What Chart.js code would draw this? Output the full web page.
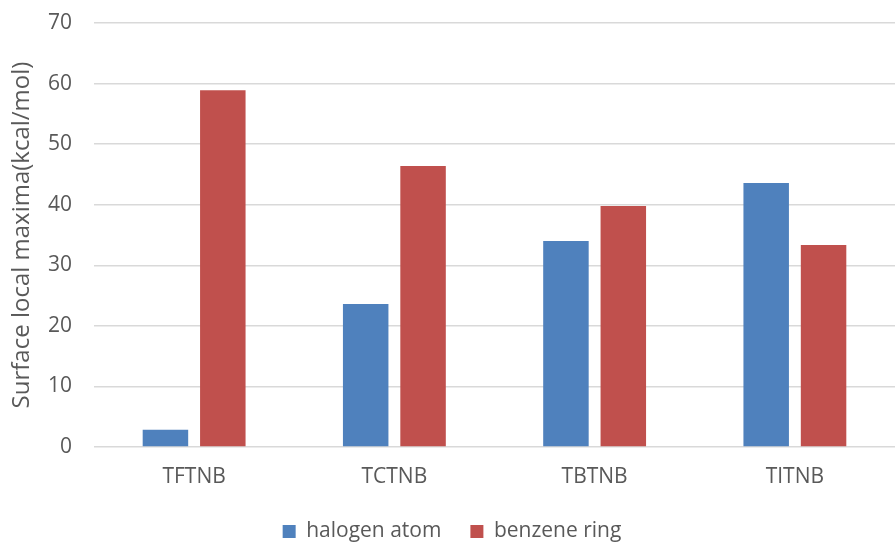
<!DOCTYPE html>
<html>
<head>
<meta charset="utf-8">
<script src="https://cdn.jsdelivr.net/npm/chart.js@4/dist/chart.umd.min.js"></script>
<style>
  html, body { margin: 0; padding: 0; background: #fff; }
  #wrap { width: 895px; height: 544px; }
</style>
</head>
<body>
<div id="wrap"><canvas id="barchart" width="895" height="544"></canvas></div>
<script>
// categories and series
var categories = ["TFTNB", "TCTNB", "TBTNB", "TITNB"];
var halogenAtom = [2.85, 23.6, 34.0, 43.6];
var benzeneRing = [58.9, 46.4, 39.8, 33.35];
var yTicks = [0, 10, 20, 30, 40, 50, 60, 70];

var textColor = "#595959";
var gridColor = "#d9d9d9";

var chartdata = {
  labels: categories,
  datasets: [
    {
      label: "halogen atom",
      backgroundColor: "#4f81bd",
      borderColor: "#4f81bd",
      borderWidth: 0,
      data: halogenAtom
    },
    {
      label: "benzene ring",
      backgroundColor: "#c0504d",
      borderColor: "#c0504d",
      borderWidth: 0,
      data: benzeneRing
    }
  ]
};

var chartoptions = {
  responsive: false,
  animation: false,
  layout: { padding: { top: 23, right: -9, bottom: -8, left: 0 } },
  datasets: {
    bar: { categoryPercentage: 0.573, barPercentage: 0.793 }
  },
  plugins: {
    tooltip: { enabled: false },
    legend: {
      position: "bottom",
      labels: {
        boxWidth: 13,
        boxHeight: 13,
        padding: 29,
        color: textColor,
        font: { family: "Open Sans", size: 21 }
      }
    }
  },
  scales: {
    x: {
      grid: { display: false, drawTicks: false },
      border: { display: false },
      ticks: {
        color: textColor,
        padding: 17,
        font: { family: "Open Sans", size: 21 }
      },
      afterFit: function (scale) { scale.height = 45; }
    },
    y: {
      min: 0,
      max: 70,
      afterBuildTicks: function (scale) {
        scale.ticks = yTicks.map(function (v) { return { value: v }; });
      },
      grid: { color: gridColor, lineWidth: 1.5, drawTicks: false },
      border: { display: false },
      ticks: {
        color: textColor,
        padding: 22,
        font: { family: "Open Sans", size: 21 }
      },
      title: {
        display: true,
        text: "Surface local maxima(kcal/mol)",
        color: textColor,
        padding: { top: 8, bottom: 0 },
        font: { family: "Open Sans", size: 24 }
      },
      afterFit: function (scale) {
        scale.width = 94;
        scale.paddingTop = 0;
        scale.paddingBottom = 0;
      }
    }
  }
};

var ctx = document.getElementById("barchart").getContext("2d");
var StatChart = new Chart(ctx, { type: "bar", data: chartdata, options: chartoptions });
</script>
</body>
</html>
